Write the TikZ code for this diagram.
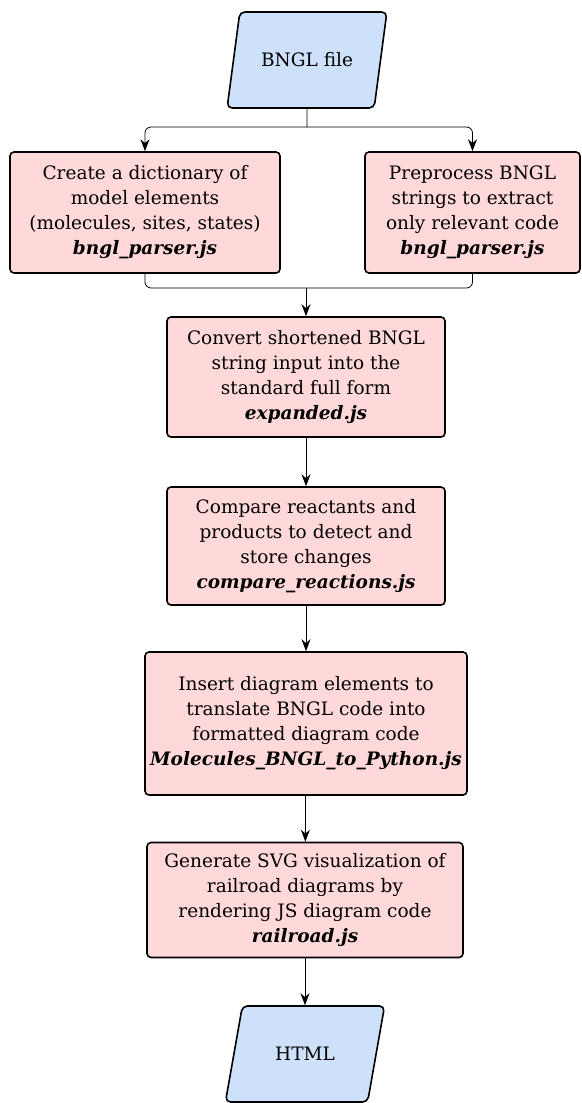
\documentclass[tikz,border=0pt]{standalone}
\usepackage{fontspec}
\setmainfont{DejaVu Serif}
\usetikzlibrary{positioning, arrows.meta, shapes.geometric}

\definecolor{procpink}{RGB}{255,217,217}
\definecolor{iofill}{RGB}{206,225,250}

\begin{document}
\begin{tikzpicture}[
    x=1pt, y=-1pt,
    proc box/.style={
        draw=black, fill=procpink, rectangle, rounded corners=4pt,
        line width=1.6pt, align=center, inner sep=2pt,
        font=\fontsize{18.5}{25}\selectfont
    },
    io box/.style={
        draw=black, fill=iofill, trapezium, trapezium left angle=66,
        trapezium right angle=114, trapezium stretches=true,
        rounded corners=5pt, line width=1.6pt,
        minimum height=96pt, minimum width=160pt, align=center,
        font=\fontsize{18.5}{25}\selectfont
    },
    flow/.style={-{Stealth[length=12pt, width=9pt]}, line width=0.8pt, rounded corners=6pt},
    link line/.style={line width=0.8pt, rounded corners=6pt}
]

\useasboundingbox (0,0) rectangle (581,1103);

% ------------------------------------------------------------------------------
% 1. ENTRADA Y SALIDA
% ------------------------------------------------------------------------------
\node[io box] (bngl) at (307,60) {BNGL file};
\node[io box] (html) at (305,1054) {HTML};

% ------------------------------------------------------------------------------
% 2. PASOS DEL PROCESO
% ------------------------------------------------------------------------------
\node[proc box, minimum width=270pt, minimum height=121pt] (dict) at (145,212.5)
    {Create a dictionary of\\model elements\\(molecules, sites, states)\\\textbf{\textit{bngl\_parser.js}}};
\node[proc box, minimum width=215pt, minimum height=121pt] (prep) at (472.5,212.5)
    {Preprocess BNGL\\strings to extract\\only relevant code\\\textbf{\textit{bngl\_parser.js}}};
\node[proc box, minimum width=278pt, minimum height=120pt] (conv) at (306,377)
    {Convert shortened BNGL\\string input into the\\standard full form\\\textbf{\textit{expanded.js}}};
\node[proc box, minimum width=278pt, minimum height=118pt] (comp) at (306,546)
    {Compare reactants and\\products to detect and\\store changes\\\textbf{\textit{compare\_reactions.js}}};
\node[proc box, minimum width=322pt, minimum height=143pt] (ins) at (306,723.5)
    {Insert diagram elements to\\translate BNGL code into\\formatted diagram code\\\textbf{\textit{Molecules\_BNGL\_to\_Python.js}}};
\node[proc box, minimum width=316pt, minimum height=115pt] (gen) at (305,900)
    {Generate SVG visualization of\\railroad diagrams by\\rendering JS diagram code\\\textbf{\textit{railroad.js}}};

% ------------------------------------------------------------------------------
% 3. CONEXIONES
% ------------------------------------------------------------------------------
\coordinate (split) at (307,127);
\coordinate (merge) at (306,288);

\draw[link line] (bngl.south) -- (split);
\draw[flow] (split) -| (dict.north);
\draw[flow] (split) -| (prep.north);

\draw[link line] (dict.south) |- (merge);
\draw[link line] (prep.south) |- (merge);
\draw[flow] (merge) -- (conv.north);

\draw[flow] (conv) -- (comp);
\draw[flow] (comp) -- (ins);
\draw[flow] (ins) -- (gen);
\draw[flow] (gen.south) -- (gen.south |- html.north);

\end{tikzpicture}
\end{document}
